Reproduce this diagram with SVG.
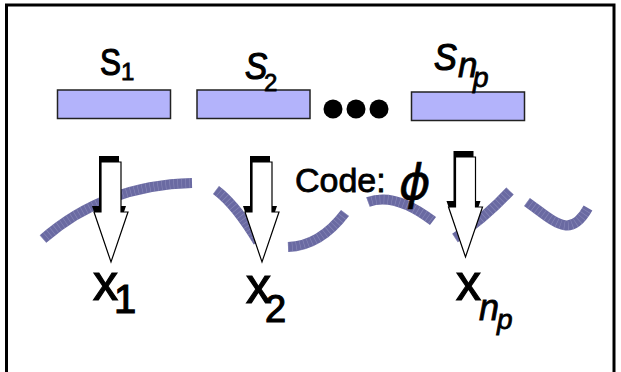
<svg xmlns="http://www.w3.org/2000/svg" width="621" height="372" viewBox="0 0 621 372">
  <style>
    .frame { fill: #ffffff; stroke: #000000; stroke-width: 3; }
    .box { fill: #b3b3fb; stroke: #222222; stroke-width: 1.5; }
    .dot { fill: #000000; }
    .wave { fill: none; stroke: #6a6aa2; stroke-width: 10; }
    .grain { fill: none; stroke: #a4a4cc; stroke-width: 10; stroke-dasharray: 0.6 3.4; opacity: 0.55; }
    .arrow-shadow { fill: #000000; }
    .arrow-body { fill: #ffffff; stroke: #000000; stroke-width: 1.2; stroke-linejoin: miter; }
    .lbl { font-family: "Liberation Sans", Arial, sans-serif; fill: #000000; stroke: #000000; stroke-width: 0.8; }
    .big { stroke-width: 1.2; }
    .it { font-style: italic; }
    .phi { font-family: "DejaVu Sans", "Liberation Sans", sans-serif; font-style: italic; fill: #000000; stroke: #000000; stroke-width: 0.6; }
  </style>
  <defs>
    <!-- block arrow pointing down, origin at top centre of the shadow bar -->
    <path id="arrowShape" d="M-10,6 H10 V56 H17 L0,106 L-17,56 H-10 Z"/>
    <g id="blockArrow">
      <use href="#arrowShape" class="arrow-shadow" transform="translate(-2,-6)"/>
      <use href="#arrowShape" class="arrow-body"/>
    </g>
  </defs>

  <rect class="frame" x="6.5" y="5" width="607.5" height="420"/>

  <!-- wavy code strand -->
  <g id="connectors">
    <g id="strand">
      <path class="wave" d="M43,239 Q105,185 192,183"/>
      <path class="wave" d="M216,190 Q236,205 258,242"/>
      <path class="wave" d="M288,247 Q320,246 345,213"/>
      <path class="wave" d="M368,202 Q395,192 433,221"/>
      <path class="wave" d="M455,238 Q485,218 510,191"/>
      <path class="wave" d="M527,202 C555,222 570,240 588,208"/>
      <path class="grain" d="M43,239 Q105,185 192,183"/>
      <path class="grain" d="M216,190 Q236,205 258,242"/>
      <path class="grain" d="M288,247 Q320,246 345,213"/>
      <path class="grain" d="M368,202 Q395,192 433,221"/>
      <path class="grain" d="M455,238 Q485,218 510,191"/>
      <path class="grain" d="M527,202 C555,222 570,240 588,208"/>
    </g>
    <use id="arrow1" href="#blockArrow" transform="translate(111,156)"/>
    <use id="arrow2" href="#blockArrow" transform="translate(262,156)"/>
    <use id="arrow3" href="#blockArrow" transform="translate(465.5,151)"/>
  </g>

  <g id="s1">
    <rect class="box" x="57.5" y="90" width="113" height="28.5"/>
    <text class="lbl big" transform="translate(100,75) scale(0.85,1)" font-size="37">S</text>
    <text class="lbl" x="121" y="80" font-size="24">1</text>
  </g>
  <g id="s2">
    <rect class="box" x="197" y="90" width="113" height="28.5"/>
    <text class="lbl big it" transform="translate(245,79) scale(0.9,1)" font-size="37">S</text>
    <text class="lbl" x="264" y="91" font-size="24">2</text>
  </g>
  <g id="ellipsis">
    <circle class="dot" cx="333" cy="109" r="9.5"/>
    <circle class="dot" cx="356" cy="109" r="9.5"/>
    <circle class="dot" cx="379" cy="109" r="9.5"/>
  </g>
  <g id="snp">
    <rect class="box" x="411.5" y="92" width="113" height="28.5"/>
    <text class="lbl big it" transform="translate(434,70) scale(0.95,1)" font-size="36">S</text>
    <text class="lbl it" x="458" y="77" font-size="35">n</text>
    <text class="lbl it" x="473" y="87" font-size="28">p</text>
  </g>

  <g id="code">
    <text class="lbl" x="295" y="192" font-size="34">Code:</text>
    <text class="phi" x="399" y="199" font-size="48">ϕ</text>
  </g>

  <g id="x1">
    <text class="lbl big" x="93" y="300" font-size="50">x</text>
    <text class="lbl big" x="114" y="313" font-size="40">1</text>
  </g>
  <g id="x2">
    <text class="lbl big" x="246" y="303" font-size="50">x</text>
    <text class="lbl big" x="265" y="322" font-size="38">2</text>
  </g>
  <g id="xnp">
    <text class="lbl big" x="456" y="300" font-size="50">x</text>
    <text class="lbl it" x="479" y="320" font-size="36">n</text>
    <text class="lbl it" x="497" y="329" font-size="28">p</text>
  </g>
</svg>
